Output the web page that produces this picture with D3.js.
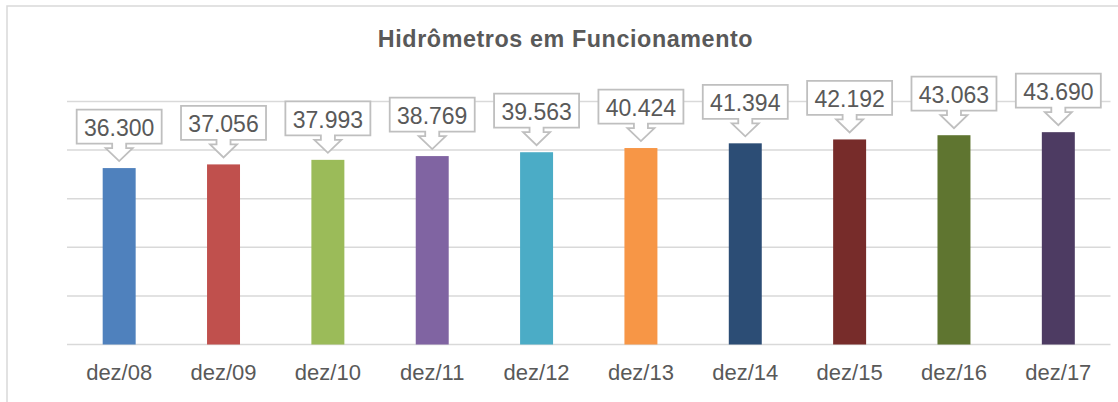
<!DOCTYPE html>
<html>
<head>
<meta charset="utf-8">
<script src="https://cdn.jsdelivr.net/npm/d3@7"></script>
<style>
  html, body { margin: 0; padding: 0; background: #fff; }
  svg { display: block; font-family: "Liberation Sans", Arial, sans-serif; }
</style>
</head>
<body>
<svg id="chart" width="1118" height="402"></svg>
<script>
// Installed water meters at year end
const categories = ["dez/08", "dez/09", "dez/10", "dez/11", "dez/12", "dez/13", "dez/14", "dez/15", "dez/16", "dez/17"];
const values = [36300, 37056, 37993, 38769, 39563, 40424, 41394, 42192, 43063, 43690];
const barColors = ["#4F81BD", "#C0504D", "#9BBB59", "#8064A2", "#4BACC6", "#F79646", "#2C4D75", "#772C2A", "#5F7530", "#4D3B62"];
const yTicks = [0, 10000, 20000, 30000, 40000, 50000];
const title = "Hidrômetros em Funcionamento";

const svg = d3.select("#chart");
const W = 1118, H = 402;
const plot = { left: 67, right: 1110.5, top: 101.5, bottom: 344.5 };

// chart-area frame
svg.append("rect")
  .attr("x", 7).attr("y", 6)
  .attr("width", W + 20).attr("height", H + 20)
  .attr("fill", "#fff").attr("stroke", "#d9d9d9").attr("stroke-width", 1.5);

svg.append("text")
  .attr("x", 565.5).attr("y", 47.3)
  .attr("text-anchor", "middle")
  .attr("font-size", 23.3).attr("font-weight", "bold")
  .attr("letter-spacing", 0.6)
  .attr("fill", "#595959")
  .text(title);

const x = d3.scaleBand().domain(categories).range([plot.left, plot.right]).paddingInner(0.684).paddingOuter(0.342);
const y = d3.scaleLinear().domain([0, 50000]).range([plot.bottom, plot.top]);

// horizontal gridlines
svg.append("g").selectAll("line").data(yTicks).join("line")
  .attr("x1", plot.left).attr("x2", plot.right)
  .attr("y1", d => y(d)).attr("y2", d => y(d))
  .attr("stroke", "#d9d9d9").attr("stroke-width", 1.5);

// bars
svg.append("g").selectAll("rect").data(values).join("rect")
  .attr("x", (d, i) => x(categories[i]))
  .attr("y", d => y(d))
  .attr("width", x.bandwidth())
  .attr("height", d => y(0) - y(d))
  .attr("fill", (d, i) => barColors[i]);

// category axis labels
const xAxis = d3.axisBottom(x).tickSize(0).tickPadding(0);
const gx = svg.append("g").attr("transform", `translate(0,${plot.bottom})`).call(xAxis);
gx.select(".domain").remove();
gx.selectAll("text")
  .attr("y", 35).attr("dy", 0)
  .attr("font-size", 22).attr("font-family", "'Liberation Sans', Arial, sans-serif")
  .attr("fill", "#595959");

// value callouts: box with a down-pointing arrow
const fmt = d3.formatLocale({ decimal: ",", thousands: ".", grouping: [3], currency: ["R$", ""] }).format(",d");
const boxW = 85, boxH = 34;
const shaftHalf = 7, shaftH = 4.5, headHalf = 13.5, headH = 13;
const tipGap = 7;

const callouts = svg.append("g").selectAll("g").data(values).join("g")
  .attr("transform", (d, i) => `translate(${x(categories[i]) + x.bandwidth() / 2},${y(d) - tipGap})`);

callouts.append("path")
  .attr("d", () => {
    const b = -(headH + shaftH);       // box bottom relative to tip
    const t = b - boxH;                // box top
    const hw = boxW / 2;
    return [
      [-hw, t], [hw, t], [hw, b], [shaftHalf, b], [shaftHalf, b + shaftH],
      [headHalf, b + shaftH], [0, 0], [-headHalf, b + shaftH], [-shaftHalf, b + shaftH],
      [-shaftHalf, b], [-hw, b]
    ].map((p, k) => (k ? "L" : "M") + p[0] + "," + p[1]).join("") + "Z";
  })
  .attr("fill", "#fff").attr("stroke", "#bfbfbf").attr("stroke-width", 1.8)
  .attr("stroke-linejoin", "miter");

callouts.append("text")
  .attr("x", 0).attr("y", -(headH + shaftH) - 7.5)
  .attr("text-anchor", "middle")
  .attr("font-size", 23)
  .attr("fill", "#595959")
  .text(d => fmt(d));
</script>
</body>
</html>
